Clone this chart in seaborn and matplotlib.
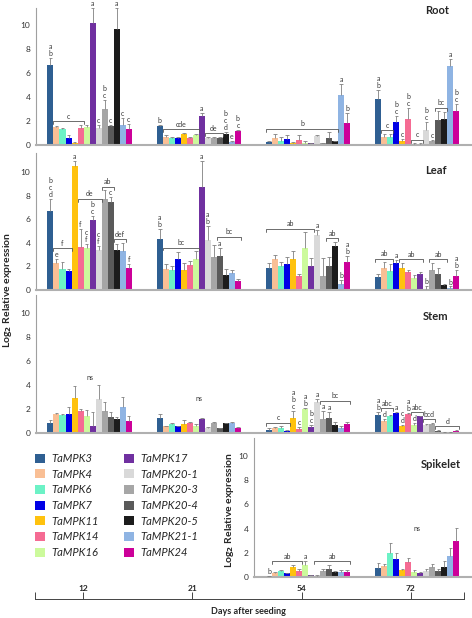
import numpy as np
import pandas as pd
import seaborn as sns
import matplotlib.pyplot as plt

genes = ['TaMPK3', 'TaMPK4', 'TaMPK6', 'TaMPK7', 'TaMPK11', 'TaMPK14', 'TaMPK16',
         'TaMPK17', 'TaMPK20-1', 'TaMPK20-3', 'TaMPK20-4', 'TaMPK20-5', 'TaMPK21-1', 'TaMPK24']
days = ['12', '21', '54', '72']
colors = ['#2f5f92', '#f9bf95', '#6cf2c6', '#0000e6', '#ffc20e', '#f56b93', '#ccfa9c',
          '#7030a0', '#d9d9d9', '#a6a6a6', '#5a5a5a', '#1c1c1c', '#8fb4e3', '#cc0099']

# means per day (rows) and gene (columns)
root_mean = [[6.65, 1.5, 1.3, 0.6, 0.2, 1.4, 1.5, 10.15, 1.45, 3.0, 1.6, 9.7, 1.65, 1.35],
             [1.55, 0.7, 0.6, 0.55, 0.9, 0.55, 0.8, 2.4, 0.6, 0.6, 0.6, 0.95, 0.25, 1.15],
             [0.22, 0.55, 0.36, 0.5, 0.15, 0.42, 0.2, 0.15, 0.72, 0.15, 0.6, 0.3, 4.15, 1.8],
             [3.85, 0.65, 0.65, 1.95, 0.3, 2.2, 0.1, 0.1, 1.25, 0.35, 2.1, 2.15, 6.6, 2.8]]
root_se = [[0.6, 0.05, 0.12, 0.2, 0.05, 0.3, 0.2, 1.3, 0.2, 0.75, 0.1, 1.7, 0.6, 0.4],
           [0.12, 0.15, 0.1, 0.08, 0.12, 0.1, 0.12, 0.25, 0.1, 0.1, 0.1, 0.12, 0.05, 0.1],
           [0.14, 0.35, 0.28, 0.33, 0.1, 0.41, 0.1, 0.05, 0.08, 0.05, 0.45, 0.05, 0.95, 0.85],
           [0.7, 0.25, 0.3, 0.5, 0.2, 0.85, 0.05, 0.05, 0.7, 0.1, 0.7, 0.6, 0.6, 0.6]]

leaf_mean = [[6.7, 2.3, 1.8, 1.6, 10.5, 3.65, 3.6, 5.95, 3.4, 7.75, 7.5, 3.4, 3.3, 1.85],
             [4.3, 1.75, 1.7, 2.6, 1.7, 2.1, 2.6, 8.7, 4.2, 2.8, 2.9, 1.25, 1.45, 0.8],
             [1.85, 2.65, 2.05, 2.2, 2.65, 1.2, 3.6, 2.05, 4.7, 1.2, 2.0, 3.7, 0.5, 2.4],
             [1.07, 1.85, 1.65, 2.3, 1.9, 1.55, 1.05, 1.35, 0.05, 1.7, 1.35, 0.4, 0.15, 1.2]]
leaf_se = [[1.0, 0.35, 0.6, 0.2, 0.4, 1.5, 0.3, 0.35, 0.35, 0.7, 0.35, 0.5, 0.7, 0.35],
           [0.9, 0.45, 0.3, 0.6, 0.6, 0.4, 0.7, 2.2, 1.2, 1.0, 0.7, 0.5, 0.25, 0.15],
           [0.4, 0.3, 0.35, 0.6, 0.65, 0.15, 1.3, 0.65, 0.4, 1.5, 0.8, 0.4, 0.35, 0.5],
           [0.25, 0.5, 0.55, 0.25, 0.4, 0.15, 0.2, 0.15, 0.3, 0.6, 0.55, 0.1, 0.15, 0.5]]

stem_mean = [[0.87, 1.55, 1.5, 1.55, 2.95, 1.85, 1.4, 0.6, 2.8, 1.8, 1.35, 1.2, 2.2, 1.0],
             [1.22, 0.55, 0.75, 0.55, 0.75, 0.8, 0.6, 1.15, 0.4, 0.8, 0.4, 0.8, 0.8, 0.45],
             [0.25, 0.45, 0.45, 0.2, 1.25, 0.35, 2.0, 0.5, 2.6, 1.2, 1.28, 0.7, 0.45, 0.75],
             [1.53, 1.0, 1.4, 1.7, 0.55, 1.6, 0.7, 1.4, 0.65, 0.75, 0.2, 0.1, 0.05, 0.2]]
stem_se = [[0.25, 0.1, 0.1, 0.65, 0.95, 0.15, 0.5, 1.15, 1.2, 0.75, 0.4, 0.15, 0.8, 0.45],
           [0.4, 0.05, 0.05, 0.05, 0.35, 0.1, 0.15, 0.1, 0.1, 0.1, 0.05, 0.05, 0.15, 0.03],
           [0.2, 0.05, 0.1, 0.03, 0.6, 0.15, 0.05, 0.2, 0.25, 0.6, 0.5, 0.25, 0.1, 0.15],
           [0.2, 0.15, 0.1, 0.05, 0.15, 0.1, 0.15, 0.05, 0.1, 0.1, 0.03, 0.02, 0.02, 0.05]]

spike_days = ['54', '72']
spike_mean = [[0.05, 0.3, 0.5, 0.3, 0.8, 0.5, 0.97, 0.15, 0.05, 0.5, 0.7, 0.4, 0.45, 0.45],
              [0.78, 0.9, 2.0, 1.52, 0.6, 1.2, 0.4, 0.35, 0.5, 0.85, 0.5, 0.8, 1.7, 2.95]]
spike_se = [[0.02, 0.1, 0.1, 0.05, 0.2, 0.15, 0.35, 0.05, 0.15, 0.2, 0.3, 0.1, 0.15, 0.15],
            [0.35, 0.2, 0.85, 0.5, 0.1, 0.4, 0.15, 0.05, 0.2, 0.25, 0.15, 0.55, 0.7, 1.1]]

# significance letters: (day index, gene index, letters)
root_letters = [(0, 0, 'a\nb'), (0, 7, 'a'), (0, 8, 'c'), (0, 9, 'b\nc'), (0, 10, 'c'),
                (0, 11, 'a'), (0, 12, 'c'), (0, 13, 'c'),
                (1, 0, 'b'), (1, 7, 'a'), (1, 11, 'b\nc\nd'), (1, 12, 'e'), (1, 13, 'b\nc'),
                (2, 12, 'a'), (2, 13, 'b'),
                (3, 0, 'a\nb'), (3, 3, 'b\nc'), (3, 4, 'c'), (3, 5, 'b\nc'), (3, 8, 'b\nc'),
                (3, 9, 'c'), (3, 12, 'a'), (3, 13, 'b\nc')]
root_brackets = [(0, 1, 5, 'c'), (1, 1, 6, 'cde'), (1, 8, 10, 'de'), (2, 0, 11, 'b'),
                 (3, 1, 2, 'c'), (3, 6, 7, 'c'), (3, 10, 11, 'bc')]

leaf_letters = [(0, 0, 'b\nc\nd'), (0, 1, 'e'), (0, 4, 'a'), (0, 5, 'f'), (0, 6, 'c\nf'),
                (0, 7, 'b\nc'), (0, 8, 'c\nf'), (0, 10, 'c'), (0, 13, 'f'),
                (1, 0, 'a\nb'), (1, 7, 'a'), (1, 8, 'a\nb'), (1, 10, 'a'),
                (2, 8, 'a'), (2, 12, 'b'), (2, 13, 'a\nb'),
                (3, 3, 'a'), (3, 8, 'b'), (3, 12, 'b'), (3, 13, 'a\nb')]
leaf_brackets = [(0, 1, 3, 'f'), (0, 5, 8, 'de'), (0, 9, 10, 'ab'), (0, 11, 12, 'def'),
                 (1, 1, 6, 'bc'), (1, 10, 13, 'bc'),
                 (2, 0, 7, 'ab'), (2, 10, 11, 'ab'),
                 (3, 0, 2, 'ab'), (3, 4, 7, 'ab'), (3, 9, 11, 'ab')]

stem_letters = [(2, 4, 'a\nb\nc'), (2, 5, 'c'), (2, 6, 'a\nb'), (2, 7, 'b\nc'), (2, 8, 'a'),
                (2, 9, 'a'), (2, 10, 'a'),
                (3, 0, 'a\nb'), (3, 1, 'd'), (3, 3, 'a'), (3, 4, 'c\nd'), (3, 5, 'a\nb'),
                (3, 6, 'd')]
stem_brackets = [(2, 0, 3, 'c'), (2, 9, 13, 'bc'),
                 (3, 1, 2, 'abc'), (3, 6, 7, 'abc'), (3, 8, 9, 'bcd'), (3, 10, 13, 'd')]
stem_ns = [(0, 4.6), (1, 2.9)]

spike_letters = [(2, 0, 'b'), (2, 6, 'a')]
spike_brackets = [(2, 1, 5, 'ab'), (2, 8, 13, 'ab')]
spike_ns = [(3, 4.0)]

W, H = 472, 618
sns.set_style('white')
plt.rcParams['font.family'] = ['Lato', 'DejaVu Sans']

fig = plt.figure(figsize=(W / 100, H / 100), dpi=100)


def px_axes(left, top, right, bottom):
    return fig.add_axes([left / W, 1 - bottom / H, (right - left) / W, (bottom - top) / H])


GROUP_W = 0.77
BAR_W = GROUP_W / len(genes)
LINE_H = 0.52   # height of one stacked letter, data units
TXT = '#3a3a3a'
FS = 5


def draw_panel(ax, mean, se, day_list, letters, brackets, ns, xlim, ymax, legend=False):
    rows = []
    for d, vals in zip(day_list, mean):
        for g, v in zip(genes, vals):
            rows.append({'day': d, 'gene': g, 'value': v})
    df = pd.DataFrame(rows)
    sns.barplot(data=df, x='day', y='value', hue='gene', order=days, hue_order=genes,
                palette=colors, width=GROUP_W, gap=0, errorbar=None, saturation=1,
                legend=legend, ax=ax, linewidth=0)

    # locate bars and draw the upper error bars
    info = {}
    for cont in ax.containers:
        for bar in cont:
            xc = bar.get_x() + bar.get_width() / 2
            di = int(round(xc))
            gi = int(round((xc - di + GROUP_W / 2) / BAR_W - 0.5))
            if days[di] not in day_list:
                continue
            k = day_list.index(days[di])
            top = mean[k][gi]
            err = top + se[k][gi]
            info[(di, gi)] = (bar.get_x(), bar.get_x() + bar.get_width(), err)
            ax.vlines(xc, top, err, color='#808080', lw=0.6, zorder=3)
            ax.hlines(err, xc - BAR_W * 0.3, xc + BAR_W * 0.3, color='#808080', lw=0.6, zorder=3)

    stack = {}
    for di, gi, txt in letters:
        x0, x1, err = info[(di, gi)]
        ax.text((x0 + x1) / 2, err + 0.08, txt, ha='center', va='bottom', fontsize=FS,
                linespacing=1.0, color=TXT)
        stack[(di, gi)] = err + 0.08 + LINE_H * (txt.count('\n') + 1)

    for di, g0, g1, txt in brackets:
        lvl = max(stack.get((di, g), info[(di, g)][2]) for g in range(g0, g1 + 1)) + 0.3
        x0 = info[(di, g0)][0]
        x1 = info[(di, g1)][1]
        ax.plot([x0, x0, x1, x1], [lvl - 0.25, lvl, lvl, lvl - 0.25], color='#555555', lw=0.6)
        ax.text((x0 + x1) / 2, lvl + 0.12, txt, ha='center', va='bottom', fontsize=FS, color=TXT)

    for di, lvl in ns:
        ax.text(di, lvl, 'ns', ha='center', va='center', fontsize=FS, color=TXT)

    ax.set_xlim(*xlim)
    ax.set_ylim(0, ymax)
    ax.set_yticks([0, 2, 4, 6, 8, 10])
    ax.set_xticks([])
    ax.set_xlabel('')
    ax.set_ylabel('')
    ax.tick_params(axis='y', labelsize=6, length=0, labelcolor='#333333', pad=4)
    for s in ['top', 'right']:
        ax.spines[s].set_visible(False)
    ax.spines['left'].set_color('#a0a0a0')
    ax.spines['left'].set_linewidth(0.8)
    ax.spines['bottom'].set_color('#b0b0b0')
    ax.spines['bottom'].set_linewidth(1.5)


main_xlim = (-0.49, 3.5)

ax_root = px_axes(36, 8, 472, 145)
draw_panel(ax_root, root_mean, root_se, days, root_letters, root_brackets, [],
           main_xlim, 137 / 12, legend=True)
handles, labels = ax_root.get_legend_handles_labels()
ax_root.get_legend().remove()

ax_leaf = px_axes(36, 153, 472, 290)
draw_panel(ax_leaf, leaf_mean, leaf_se, days, leaf_letters, leaf_brackets, [],
           main_xlim, 137 / 11.8)

ax_stem = px_axes(36, 295, 472, 433)
draw_panel(ax_stem, stem_mean, stem_se, days, stem_letters, stem_brackets, stem_ns,
           main_xlim, 138 / 12)

ax_spk = px_axes(254, 438, 472, 577)
draw_panel(ax_spk, spike_mean, spike_se, spike_days, spike_letters, spike_brackets, spike_ns,
           (1.504, 3.5), 139 / 12.1)

# organ titles
for name, x, y in [('Root', 437, 10), ('Leaf', 436, 171), ('Stem', 436, 316), ('Spikelet', 441, 464)]:
    fig.text(x / W, 1 - y / H, name, ha='center', va='center', fontsize=8, fontweight='bold')

ylab = r'Log$_{\mathbf{2}}$ Relative expression'
fig.text(8 / W, 1 - 290 / H, ylab, rotation=90, ha='center', va='center', fontsize=7.5,
         fontweight='bold')
fig.text(229 / W, 1 - 510 / H, ylab, rotation=90, ha='center', va='center', fontsize=7.5,
         fontweight='bold')

fig.legend(handles, labels, loc='upper left', bbox_to_anchor=(35 / W, 1 - 453 / H), ncol=2,
           frameon=False, prop={'style': 'italic', 'size': 8}, handlelength=0.9,
           handleheight=0.9, handletextpad=0.6, labelspacing=0.42, columnspacing=2.2,
           borderaxespad=0, borderpad=0)

# shared day axis at the bottom
ax_days = fig.add_axes([35 / W, 1 - 599 / H, (464 - 35) / W, 0.0005])
left_end = (35 - 83) / 109.3
right_end = (464 - 83) / 109.3
ax_days.set_xlim(left_end, right_end)
ax_days.set_xticks(range(len(days)))
ax_days.set_xticklabels(days, fontsize=6, fontweight='bold')
ax_days.set_xticks([left_end, right_end], minor=True)
ax_days.tick_params(axis='x', which='both', bottom=True, direction='in', length=5, width=0.7,
                    color='#444444', pad=-10)
ax_days.set_yticks([])
for s in ['top', 'left', 'right']:
    ax_days.spines[s].set_visible(False)
ax_days.spines['bottom'].set_color('#444444')
ax_days.spines['bottom'].set_linewidth(0.7)
fig.text(248 / W, 1 - 611 / H, 'Days after seeding', ha='center', va='center', fontsize=6.5,
         fontweight='bold')

fig.savefig('out.png', dpi=100)
